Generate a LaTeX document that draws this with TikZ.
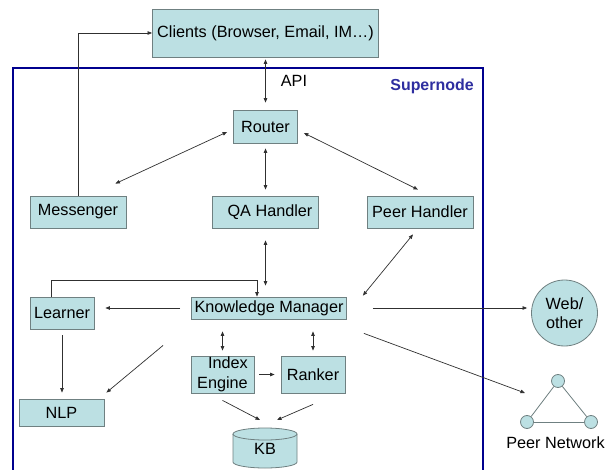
\documentclass[tikz,border=0pt]{standalone}
\usepackage{fontspec}
\setmainfont{Liberation Sans}
\usetikzlibrary{arrows.meta,calc}
\definecolor{boxfill}{HTML}{BCE0E3}
\definecolor{boxline}{HTML}{6F8081}
\definecolor{supblue}{HTML}{00008E}
\definecolor{suptext}{HTML}{2E2EA0}
\definecolor{linegray}{HTML}{303030}
\begin{document}
\begin{tikzpicture}[x=1bp,y=-1bp,
 every node/.style={font=\fontsize{16.3}{19.5}\selectfont, inner sep=0pt},
 box/.style={draw=boxline, fill=boxfill, line width=0.8bp},
 conn/.style={draw=linegray, line width=0.7bp},
 tip/.style={conn, -{Triangle[length=4.5bp,width=3.5bp]}},
 dtip/.style={conn, {Triangle[length=4.5bp,width=3.5bp]}-{Triangle[length=4.5bp,width=3.5bp]}},
 pnode/.style={circle, draw=boxline, fill=boxfill, line width=0.8bp, minimum size=13bp},
]
\useasboundingbox (0,0) rectangle (607,470);
\fill[white] (0,0) rectangle (607,470);

% Supernode frame
\draw[supblue, line width=2.6bp] (13,470) -- (13,68) -- (483,68) -- (483,470);
\node[font=\fontsize{16}{19}\selectfont\bfseries, text=suptext] (suplabel) at (432,86) {Supernode};

% boxes
\node[box, minimum width=226bp, minimum height=48bp] (clients) at (265.5,33) {Clients (Browser, Email, IM…)};
\node (api) at (294,81) {API};
\node[box, minimum width=64bp, minimum height=33bp] (router) at (265.5,126.5) {Router};
\node[box, minimum width=96bp, minimum height=32bp] (messenger) at (78,212) {Messenger};
\node[box, minimum width=106bp, minimum height=32bp] (qa) at (265.5,212) {\hspace{9bp}QA Handler};
\node[box, minimum width=106bp, minimum height=32bp] (peer) at (420,212) {Peer Handler};
\node[box, minimum width=155bp, minimum height=22bp] (km) at (269,308) {Knowledge Manager};
\node[box, minimum width=64bp, minimum height=32bp] (learner) at (62,313) {Learner\hspace{6bp}};
\node[box, minimum width=85bp, minimum height=27bp] (nlp) at (61.5,412.5) {NLP\hspace{14bp}};
\node[box, minimum width=63bp, minimum height=37bp, align=right] (index) at (222.5,374.5) {Index\\Engine};
\node[box, minimum width=64bp, minimum height=37bp] (ranker) at (313,374.5) {Ranker};
\node[box, circle, minimum size=66bp, align=center] (web) at (564.5,313) {Web/\\other};

% KB cylinder
\path[box] (233,434) -- (233,462) arc[start angle=180, end angle=360, x radius=32bp, y radius=6bp]
  -- (297,434) arc[start angle=0, end angle=180, x radius=32bp, y radius=6bp] -- cycle;
\draw[boxline, line width=0.8bp] (233,434) arc[start angle=180, end angle=360, x radius=32bp, y radius=6bp];
\coordinate (kbtop) at (265,428);
\node (kb) at (265,449) {KB};

% peer network
\node[pnode] (pn1) at (558,381) {};
\node[pnode] (pn2) at (527,422) {};
\node[pnode] (pn3) at (591,422) {};
\draw[boxline, line width=0.8bp] (pn1) -- (pn2);
\draw[boxline, line width=0.8bp] (pn2) -- (pn3);
\draw[boxline, line width=0.8bp] (pn3) -- (pn1);
\node (pnlabel) at (555.5,443) {Peer Network};

% connectors
\draw[dtip, shorten <=2bp, shorten >=7bp] (clients.south) -- (router.north);
\draw[tip] (messenger.north) |- (clients.west);
\draw[dtip] ($(router.west)+(-6,5.5)$) -- ($(messenger.north east)+(-11,-12)$);
\draw[dtip] ($(router.east)+(6,6.5)$) -- ($(peer.north)+(-2,-6)$);
\draw[dtip, shorten <=5bp, shorten >=6bp] (router.south) -- (qa.north);
\draw[dtip, shorten <=12bp, shorten >=11bp] (qa.south) -- (qa.south |- km.north);
\draw[dtip] ($(peer.south)+(-7,6)$) -- ($(km.north east)+(16,-1)$);
\draw[tip] ($(learner.north)+(-11,0)$) |- ($(km.north)+(-12,-16)$) -- ($(km.north)+(-12,0)$);
\draw[tip, shorten <=11bp, shorten >=11bp] (km.west) -- (km.west -| learner.east);
\draw[tip, shorten <=26bp, shorten >=4bp] (km.east) -- (km.east -| web.west);
\draw[tip] ($(km.south east)+(17,14)$) -- ($(pn2)+(-2,-29)$);
\draw[tip, shorten <=6bp, shorten >=6bp] (learner.south) -- (learner.south |- nlp.north);
\draw[tip] ($(km.south west)+(-28,26)$) -- ($(nlp.north east)+(2,-6)$);
\draw[dtip, shorten <=12bp, shorten >=5bp] (index.north |- km.south) -- (index.north);
\draw[dtip, shorten <=12bp, shorten >=5bp] (ranker.north |- km.south) -- (ranker.north);
\draw[tip, shorten <=5bp, shorten >=6bp] (index.east) -- (ranker.west);
\draw[tip] ($(index.south)+(0,7)$) -- ($(kbtop)+(-5,-8)$);
\draw[tip] ($(ranker.south)+(0,11)$) -- ($(kbtop)+(12,-8)$);
\end{tikzpicture}
\end{document}
